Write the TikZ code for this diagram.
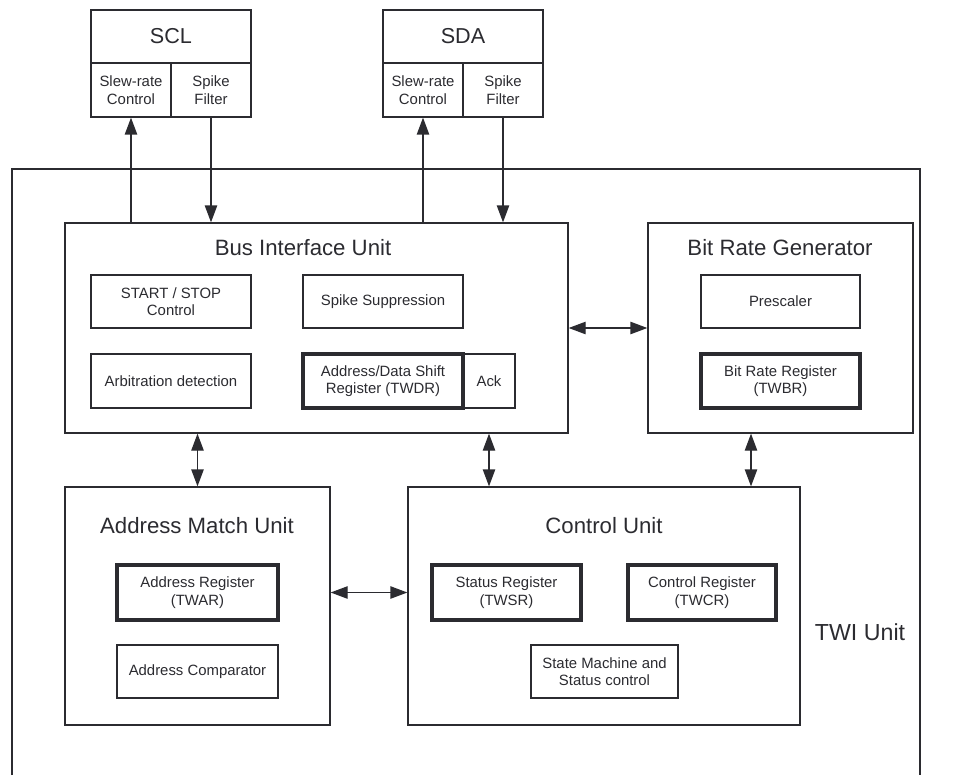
\documentclass[tikz,border=0pt]{standalone}
\usepackage{fontspec}
\setmainfont{Liberation Sans}
\usetikzlibrary{arrows.meta,positioning,calc}
\definecolor{ink}{HTML}{2B2B30}

\begin{document}
\begin{tikzpicture}[
  x=0.5pt, y=-0.5pt,
  color=ink,
  font=\fontsize{7.45}{8.8}\selectfont,
  line width=0.65pt,
  unit/.style={draw, inner sep=0pt},
  part/.style={draw, align=center, inner sep=0pt, minimum width=80pt, minimum height=27pt},
  reg/.style={part, line width=1.75pt},
  title/.style={inner sep=0pt, font=\fontsize{11.1}{13}\selectfont},
  arrow/.style={-{Triangle[length=8.5pt, width=6.2pt]}},
  both/.style={{Triangle[length=8.5pt, width=6.2pt]}-{Triangle[length=8.5pt, width=6.2pt]}}
]
\useasboundingbox (0,0) rectangle (967,775);

% Pads
\node[part, minimum height=26.5pt, font=\fontsize{10.8}{13}\selectfont] (scl) at (171,36.5) {SCL};
\node[part, minimum width=40pt] (sclslew) at (131,90) {Slew-rate\\Control};
\node[part, minimum width=40pt] (sclspike) at (211,90) {Spike\\Filter};

\node[part, minimum height=26.5pt, font=\fontsize{10.8}{13}\selectfont] (sda) at (463,36.5) {SDA};
\node[part, minimum width=40pt] (sdaslew) at (423,90) {Slew-rate\\Control};
\node[part, minimum width=40pt] (sdaspike) at (503,90) {Spike\\Filter};

% TWI unit frame
\draw (12,775) |- (920,169) -- (920,775);
\node[inner sep=0pt, font=\fontsize{11.6}{13}\selectfont] (twi) at (860,632) {TWI Unit};

% Bus interface unit
\node[unit, minimum width=251.5pt, minimum height=105pt] (biu) at (316.5,328) {};
\node[title] (biutitle) at (303,248) {Bus Interface Unit};
\node[part, minimum height=26.5pt] (startstop) at (171,301.5) {START / STOP\\Control};
\node[part, minimum height=26.5pt] (spikesup) at (383,301.5) {Spike Suppression};
\node[part] (arbit) at (171,381) {Arbitration detection};
\node[reg] (shiftreg) at (383,381) {Address/Data Shift\\Register (TWDR)};
\node[part, minimum width=26pt] (ack) at (489,381) {Ack};

% Bit rate generator
\node[unit, minimum width=132.5pt, minimum height=105pt] (brg) at (780.5,328) {};
\node[title] (brgtitle) at (780,248) {Bit Rate Generator};
\node[part, minimum width=79.5pt, minimum height=26.5pt] (prescaler) at (780.5,301.5) {Prescaler};
\node[reg, minimum width=79.5pt] (twbr) at (780.5,381) {Bit Rate Register\\(TWBR)};

% Address match unit
\node[unit, minimum width=132.5pt, minimum height=119pt] (amu) at (197.5,606) {};
\node[title] (amutitle) at (197,526) {Address Match Unit};
\node[reg, minimum width=80.5pt, minimum height=27.5pt] (twar) at (197.5,592.5) {Address Register\\(TWAR)};
\node[part, minimum width=80.5pt, minimum height=26.5pt] (comparator) at (197.5,671.5) {Address Comparator};

% Control unit
\node[unit, minimum width=196pt, minimum height=119pt] (cu) at (604,606) {};
\node[title] (cutitle) at (604,526) {Control Unit};
\node[reg, minimum width=74.5pt, minimum height=27.5pt] (twsr) at (506.5,592.5) {Status Register\\(TWSR)};
\node[reg, minimum width=74pt, minimum height=27.5pt] (twcr) at (702,592.5) {Control Register\\(TWCR)};
\node[part, minimum width=73.5pt, minimum height=26.5pt] (fsm) at (604.5,671.5) {State Machine and\\Status control};

\coordinate (brgtap) at (751,433);

% Pad lines
\draw[arrow] (biu.north -| sclslew) -- (sclslew.south);
\draw[arrow] (sclspike.south) -- (biu.north -| sclspike);
\draw[arrow] (biu.north -| sdaslew) -- (sdaslew.south);
\draw[arrow] (sdaspike.south) -- (biu.north -| sdaspike);

% Internal links
\draw[both] (biu) -- (brg);
\draw[both] (biu.south -| amu) -- (amu.north);
\draw[both] (biu.south -| ack) -- (cu.north -| ack);
\draw[both] (brg.south -| brgtap) -- (cu.north -| brgtap);
\draw[both] (amu.east |- twar) -- (cu.west |- twar);

\end{tikzpicture}
\end{document}
